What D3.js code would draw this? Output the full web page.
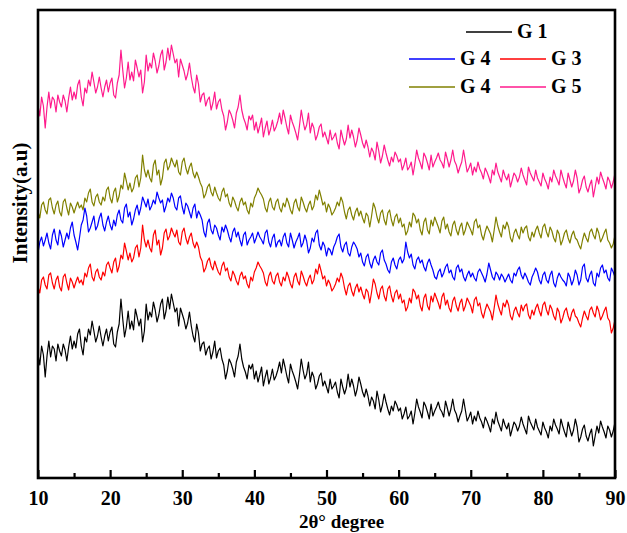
<!DOCTYPE html>
<html>
<head>
<meta charset="utf-8">
<script src="https://cdn.jsdelivr.net/npm/d3@7"></script>
<style>
  body { margin: 0; background: #fff; }
  text { font-family: "Liberation Serif", "Times New Roman", serif; font-weight: bold; fill: #000; }
</style>
</head>
<body>
<div class="xrd"></div>
<script>
// 2theta scan grid, 0.25 degree step
var twoTheta = d3.range(10, 90.001, 0.25);

// intensities (a.u.), curves already stacked as in the figure
var g1 = [
  124,113,132,123,101,122,137,121,132,129,117,134,127,122,134,128,117,131,142,129,
  137,130,144,149,132,123,141,136,149,143,157,147,136,142,152,141,132,142,149,137,
  146,151,134,131,146,154,179,159,141,151,167,149,157,148,169,161,152,159,136,147,
  174,158,166,161,176,168,156,163,174,179,159,167,181,169,184,175,166,170,152,170,
  164,158,149,155,166,152,142,136,154,145,127,134,136,123,129,132,119,126,137,120,
  127,130,119,113,99,107,119,115,109,101,116,122,134,119,111,106,99,113,109,114,
  99,107,96,103,111,92,101,108,94,100,109,98,102,108,116,105,119,111,102,95,
  114,107,102,96,89,103,119,108,99,104,116,96,106,101,89,94,102,105,92,97,
  91,
  85,99,89,92,96,86,80,99,91,84,90,104,91,99,92,82,89,101,94,86,
  81,89,82,72,81,77,69,87,78,66,73,84,76,69,63,72,67,77,73,67,
  70,59,64,71,59,62,67,54,65,79,71,66,60,76,72,66,59,74,62,67,
  71,76,69,66,61,77,70,62,69,79,68,64,56,62,67,79,68,57,61,66,
  54,62,57,67,60,56,50,61,57,52,46,59,54,66,57,52,47,59,53,49,
  55,42,49,56,53,47,52,61,54,49,44,62,56,52,48,59,51,47,43,56,
  50,46,40,52,47,59,53,49,44,59,52,46,41,56,49,42,48,59,51,36,
  41,49,53,42,37,44,49,32,42,52,45,57,51,46,40,52,48,41,47,56
];
var g3 = [
  191,185,198,201,193,189,203,205,195,189,198,202,191,187,201,204,195,188,200,196,
  190,196,201,195,198,193,205,201,210,214,201,197,206,209,201,198,206,202,213,216,
  210,205,216,220,206,212,223,219,235,227,218,225,216,220,230,233,221,230,253,238,
  231,238,230,226,243,248,233,238,223,230,245,249,238,242,250,245,241,248,236,233,
  246,250,240,234,241,245,235,230,236,231,221,217,206,210,217,220,212,208,217,211,
  206,203,212,216,207,210,201,197,207,203,197,193,202,206,199,202,194,190,201,197,
  206,210,216,212,209,205,196,192,202,206,197,194,202,205,196,192,201,197,206,201,
  194,190,201,205,197,193,207,202,196,192,199,203,194,198,209,204,214,207,199,202,
  192,
  198,194,187,190,194,200,196,205,200,190,183,192,195,187,182,190,194,186,191,184,
  179,189,186,175,186,199,194,185,179,189,192,182,177,189,192,182,176,185,188,179,
  184,175,178,167,171,180,175,189,186,179,183,172,167,180,184,172,168,182,176,185,
  180,175,169,181,185,173,178,170,166,177,181,172,167,175,179,167,172,180,176,172,
  165,178,181,172,175,165,160,168,174,170,166,158,170,183,174,168,163,175,171,178,
  173,162,158,167,171,165,161,173,167,172,174,163,159,168,163,170,174,167,162,173,
  176,168,163,173,169,162,158,170,166,155,160,167,170,162,157,165,169,162,160,155,
  151,160,167,162,158,168,171,165,161,172,167,158,162,167,171,160,157,145,150,158
];
var g4a = [
  225,236,241,232,238,245,235,229,243,249,238,233,248,242,231,238,245,239,250,256,
  243,236,228,240,253,258,270,262,246,250,256,262,248,252,260,265,253,247,256,262,
  253,248,258,252,263,268,258,255,270,274,261,266,253,259,268,273,263,270,281,276,
  271,279,268,272,278,274,286,280,275,278,266,272,280,276,285,280,271,268,280,282,
  271,264,275,272,266,260,270,274,260,267,263,258,246,241,255,259,248,244,253,250,
  243,238,251,246,253,248,241,236,246,250,241,246,238,232,243,246,233,238,241,245,
  235,240,246,241,238,234,245,248,236,231,240,244,231,236,238,232,241,245,235,231,
  245,238,230,236,240,245,231,235,243,237,225,230,240,236,245,248,233,228,236,232,
  222,
  230,228,223,231,235,241,244,231,226,233,236,225,222,231,236,233,229,221,225,216,
  212,221,224,215,210,218,222,216,213,225,228,218,214,208,205,216,220,213,209,218,
  221,215,219,236,226,220,224,213,209,218,221,215,218,211,207,215,219,213,208,201,
  199,206,209,201,205,211,214,205,208,201,198,210,213,206,209,201,197,203,207,201,
  205,200,197,206,209,205,201,196,204,215,208,201,198,206,203,198,204,201,196,200,
  204,198,195,205,202,208,211,203,199,205,201,196,193,201,205,210,206,198,194,203,
  206,198,195,203,207,195,191,200,205,201,198,196,192,205,201,193,198,208,203,193,
  198,211,214,200,196,203,207,195,192,205,201,210,213,205,208,200,197,210,206,201
];
var g4b = [
  266,260,273,276,268,264,278,280,270,264,273,277,266,262,276,279,270,263,275,271,
  265,271,276,270,273,268,280,276,285,289,276,272,281,284,276,273,281,277,288,291,
  280,275,286,290,276,282,293,289,305,297,288,295,286,290,300,303,291,300,323,308,
  301,308,300,296,313,318,303,308,293,300,315,319,308,312,320,315,311,318,306,303,
  316,320,310,304,311,315,305,300,306,301,295,291,280,284,291,294,286,282,291,285,
  280,277,286,290,281,284,275,271,281,277,271,267,276,280,273,276,268,264,275,271,
  280,284,290,286,283,279,270,266,276,280,271,268,276,279,270,266,275,271,280,275,
  268,264,275,279,271,267,281,276,270,266,273,277,268,272,283,278,288,281,273,276,
  266,
  274,270,263,266,270,276,272,281,276,266,259,268,271,263,258,266,270,262,267,260,
  255,265,262,251,262,275,270,261,255,265,268,258,253,265,268,258,252,261,264,255,
  260,251,254,243,247,256,251,265,262,255,259,248,243,256,260,248,244,258,252,261,
  256,251,245,257,261,249,254,246,242,253,257,248,243,251,255,243,248,256,252,248,
  243,256,259,250,253,243,238,246,252,248,244,236,248,261,252,246,241,253,249,256,
  251,240,236,245,249,243,239,251,245,250,252,241,237,246,241,248,252,245,240,251,
  254,246,241,251,247,240,236,248,244,233,238,245,248,240,235,243,247,240,238,233,
  229,238,245,240,236,246,249,243,239,250,245,236,240,245,249,238,235,230,234,243
];
var g5 = [
  373,362,381,372,350,371,386,370,381,378,366,383,376,371,383,377,366,380,391,378,
  386,379,393,398,381,372,390,385,398,392,406,396,385,391,401,390,381,391,398,386,
  395,400,383,380,395,403,428,408,390,400,416,398,406,397,418,410,401,408,385,396,
  423,407,415,410,425,417,405,412,423,428,408,416,430,418,433,424,415,419,401,419,
  413,407,398,404,415,401,391,385,403,394,376,383,385,372,378,381,368,375,386,369,
  376,379,368,362,348,356,368,364,358,350,365,371,383,368,360,355,348,362,358,363,
  348,356,345,352,360,341,350,357,343,349,358,347,351,357,365,354,368,360,351,344,
  363,356,351,345,338,352,368,357,348,353,365,345,355,350,338,343,351,354,341,346,
  340,
  334,348,338,341,345,335,329,348,340,333,339,353,340,348,341,331,338,350,343,335,
  330,338,331,321,330,326,318,336,327,315,322,333,325,318,312,321,316,326,322,316,
  319,308,313,320,308,311,316,303,314,328,320,315,309,325,321,315,308,323,311,316,
  320,325,318,315,310,326,319,311,318,328,317,313,305,311,316,328,317,306,310,315,
  303,311,306,316,309,305,299,310,306,301,295,308,303,315,306,301,296,308,302,298,
  304,291,298,305,302,296,301,310,303,298,293,311,305,301,297,308,300,296,292,305,
  299,295,289,301,296,308,302,298,293,308,301,295,290,305,298,291,297,308,300,285,
  290,298,302,291,286,293,298,281,291,301,294,306,300,295,289,301,297,290,296,305
];

var seriesNames = ["G 1", "G 4", "G 3", "G 4", "G 5"];
var seriesData = [g1, g4a, g3, g4b, g5];
var xTicks = [10, 20, 30, 40, 50, 60, 70, 80, 90];
var xMinorTicks = [15, 25, 35, 45, 55, 65, 75, 85];

var colors = ["#000000", "#0000ff", "#ff0000", "#808000", "#ff1a8c"];

// chart size
var svgWidth = 627;
var svgHeight = 533;
var margin = { top: 10, right: 12, bottom: 55, left: 38 };
var width = svgWidth - margin.left - margin.right;
var height = svgHeight - margin.top - margin.bottom;

var svg = d3.select(".xrd")
  .append("svg")
  .attr("width", svgWidth)
  .attr("height", svgHeight);

var chartGroup = svg.append("g")
  .attr("transform", `translate(${margin.left}, ${margin.top})`);

var xScale = d3.scaleLinear().domain([10, 90]).range([0, width]);
var yScale = d3.scaleLinear().domain([0, 468]).range([height, 0]);

// curves
var line = d3.line()
  .x(function (d, i) { return xScale(twoTheta[i]); })
  .y(function (d) { return yScale(d); });

chartGroup.selectAll(".curve")
  .data(seriesData)
  .join("path")
  .attr("class", "curve")
  .attr("d", line)
  .attr("fill", "none")
  .attr("stroke", function (d, i) { return colors[i]; })
  .attr("stroke-width", 1.2)
  .attr("stroke-linejoin", "round");

// bottom axis, ticks pointing inside
var xAxis = chartGroup.append("g")
  .attr("transform", `translate(0, ${height})`)
  .call(d3.axisBottom(xScale).tickValues(xTicks).tickSize(-8).tickPadding(13).tickFormat(d3.format("d")));
xAxis.select(".domain").remove();
xAxis.selectAll(".tick line").attr("stroke-width", 2.2);
xAxis.selectAll(".tick text").style("font-size", "20px");

var xMinor = chartGroup.append("g")
  .attr("transform", `translate(0, ${height})`)
  .call(d3.axisBottom(xScale).tickValues(xMinorTicks).tickSize(-5).tickFormat(""));
xMinor.select(".domain").remove();
xMinor.selectAll(".tick line").attr("stroke-width", 2.2);

// frame
chartGroup.append("rect")
  .attr("width", width)
  .attr("height", height)
  .attr("fill", "none")
  .attr("stroke", "#000")
  .attr("stroke-width", 2.6);

// axis titles
svg.append("text")
  .attr("x", margin.left + width / 2 + 15)
  .attr("y", 528)
  .attr("text-anchor", "middle")
  .style("font-size", "19px")
  .text("2θ° degree");

svg.append("text")
  .attr("transform", "translate(27, 203) rotate(-90)")
  .attr("text-anchor", "middle")
  .style("font-size", "21px")
  .text("Intensity(a.u)");

// legend
var legendPos = [[466, 32], [409, 59], [500, 59], [409, 87], [500, 87]];
var legend = svg.append("g");
seriesNames.forEach(function (name, i) {
  var p = legendPos[i];
  legend.append("line")
    .attr("x1", p[0]).attr("x2", p[0] + 46)
    .attr("y1", p[1]).attr("y2", p[1])
    .attr("stroke", colors[i])
    .attr("stroke-width", 1.4);
  legend.append("text")
    .attr("x", p[0] + 51)
    .attr("y", p[1] + 6)
    .style("font-size", "20px")
    .text(name);
});
</script>
</body>
</html>
